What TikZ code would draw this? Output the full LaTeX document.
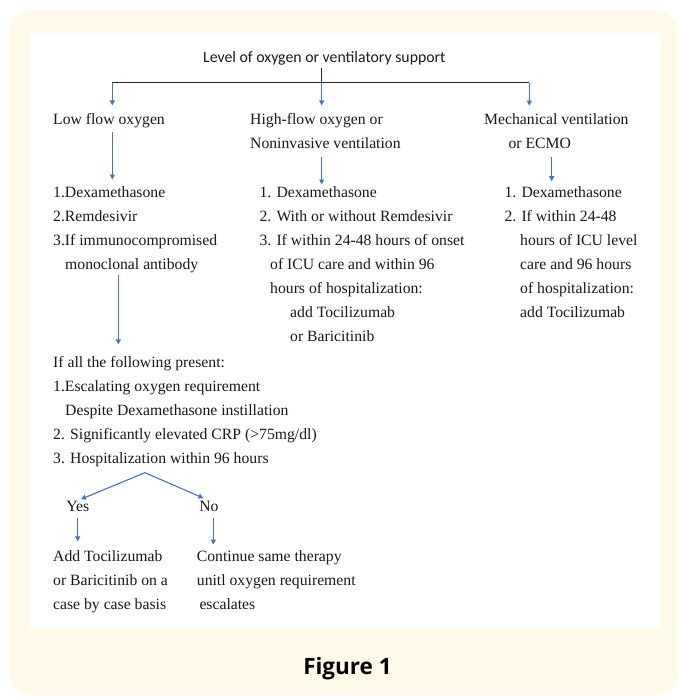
\documentclass[tikz,border=0pt]{standalone}
\usepackage{fontspec}
\setmainfont{Liberation Serif}
\newfontfamily\headfont{Carlito}
\newfontfamily\captionfont{Open Sans}
\usepackage{tikz}
\usetikzlibrary{positioning}
\usetikzlibrary{arrows.meta}
\usepackage{xcolor}
\definecolor{panelcream}{RGB}{255,250,231}
\definecolor{arrowblue}{RGB}{68,114,196}

\begin{document}
\begin{tikzpicture}[x=1pt, y=-1pt,
		txt/.style={anchor=base west, inner sep=0pt, align=left, font=\fontsize{15.7}{24}\selectfont, text=black!90},
		flow/.style={arrowblue, line width=1.1pt, -{Triangle[length=5pt,width=5pt]}},
		bus/.style={black!85, line width=0.9pt}]
	\useasboundingbox (0,0) rectangle (679,697);
	\fill[panelcream, rounded corners=22pt] (9,10) rectangle (678,695);
	\fill[white] (30,33) rectangle (661,629);

	% where the lines turn
	\coordinate (busL) at (112.3,82.7);
	\coordinate (busM) at (321.7,82.7);
	\coordinate (busR) at (529.3,82.7);
	\coordinate (mechX) at (551.7,0);
	\coordinate (dropL) at (118.3,0);
	\coordinate (noX) at (213.3,0);
	\coordinate (fork) at (145,472.7);

	% multi-line nodes sit on the baseline of their last line
	\node[txt] (head) at (203,62) {\headfont\fontsize{15.8}{19}\selectfont Level of oxygen or ventilatory support};

	\node[txt] (low) at (53,124) {Low flow oxygen};
	\node[txt] (high) at (250,148) {High-flow oxygen or\\Noninvasive ventilation};
	\node[txt] (mech) at (484,148) {Mechanical ventilation\\\hspace*{24.3pt}or ECMO};

	\node[txt] (lowlist) at (53,269) {1.Dexamethasone\\2.Remdesivir\\3.If immunocompromised\\\hspace*{12pt}monoclonal antibody};
	\node[txt] (highlist) at (259.3,341) {1. Dexamethasone\\2. With or without Remdesivir\\3. If within 24-48 hours of onset\\\hspace*{10.7pt}of ICU care and within 96\\\hspace*{10.7pt}hours of hospitalization:\\\hspace*{30.7pt}add Tocilizumab\\\hspace*{30.7pt}or Baricitinib};
	\node[txt] (mechlist) at (504.3,317) {1. Dexamethasone\\2. If within 24-48\\\hspace*{15.7pt}hours of ICU level\\\hspace*{15.7pt}care and 96 hours\\\hspace*{15.7pt}of hospitalization:\\\hspace*{15.7pt}add Tocilizumab};

	\node[txt] (cond) at (53,463) {If all the following present:\\1.Escalating oxygen requirement\\\hspace*{12pt}Despite Dexamethasone instillation\\2. Significantly elevated CRP (>75mg/dl)\\3. Hospitalization within 96 hours};

	\node[txt, anchor=base] (yes) at (77.7,511) {Yes};
	\node[txt, anchor=base] (no) at (209,511) {No};

	\node[txt] (yeslist) at (53,609) {Add Tocilizumab\\or Baricitinib on a\\case by case basis};
	\node[txt] (nolist) at (196.7,609) {Continue same therapy\\unitl oxygen requirement\\\hspace*{2.6pt}escalates};

	\node[anchor=base, inner sep=0pt] (caption) at (347.5,674) {\captionfont\bfseries\fontsize{22.5}{27}\selectfont Figure 1};

	% connectors
	\draw[bus, shorten <=3pt] (head.south -| busM) -- (busM);
	\draw[bus] (busL) -- (busR);
	\draw[flow, shorten >=7.3pt] (busL) -- (low.north -| busL);
	\draw[flow, shorten >=7.3pt] (busM) -- (high.north -| busM);
	\draw[flow, shorten >=7.3pt] (busR) -- (mech.north -| busR);
	\draw[flow, shorten <=4.3pt, shorten >=6.4pt] (low.south -| busL) -- (lowlist.north -| busL);
	\draw[flow, shorten <=9pt, shorten >=1.4pt] (high.south -| busM) -- (highlist.north -| busM);
	\draw[flow, shorten <=9pt, shorten >=4.7pt] (mech.south -| mechX) -- (mechlist.north -| mechX);
	\draw[flow, shorten <=2pt, shorten >=11.3pt] (lowlist.south -| dropL) -- (cond.north -| dropL);
	\draw[flow, shorten >=3.6pt] (fork) -- (yes.north);
	\draw[flow, shorten >=6pt] (fork) -- (no.north);
	\draw[flow, shorten <=7pt, shorten >=8.6pt] (yes.south) -- (yeslist.north -| yes.south);
	\draw[flow, shorten <=7pt, shorten >=5.3pt] (no.south -| noX) -- (nolist.north -| noX);
\end{tikzpicture}
\end{document}
